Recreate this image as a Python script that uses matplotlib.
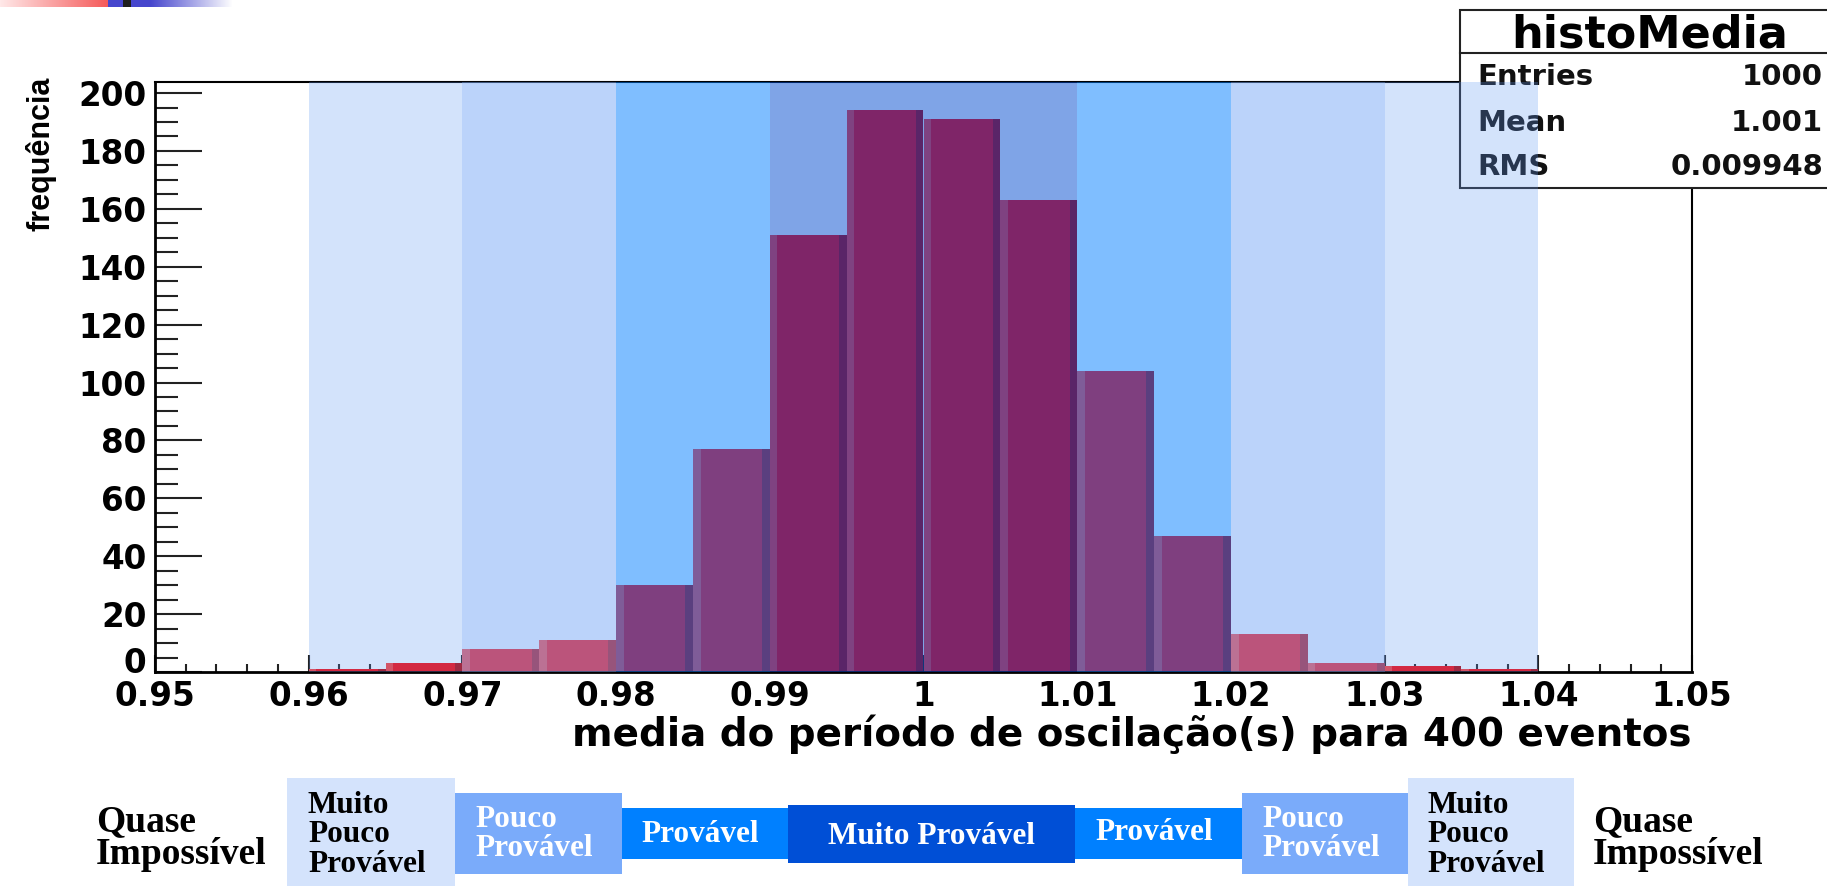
import numpy as np
import matplotlib
matplotlib.use('Agg')
from matplotlib import pyplot as plt
from matplotlib.patches import Rectangle
from matplotlib.transforms import ScaledTranslation

# histogram bins (left edges) and counts
bin_left = [0.960, 0.965, 0.970, 0.975, 0.980, 0.985, 0.990, 0.995,
            1.000, 1.005, 1.010, 1.015, 1.020, 1.025, 1.030, 1.035]
counts = [1, 3, 8, 11, 30, 77, 151, 194, 191, 163, 104, 47, 13, 3, 2, 1]
bin_width = 0.005

x_ticks = [0.95, 0.96, 0.97, 0.98, 0.99, 1.00, 1.01, 1.02, 1.03, 1.04, 1.05]
x_tick_labels = ['0.95', '0.96', '0.97', '0.98', '0.99', '1', '1.01', '1.02', '1.03', '1.04', '1.05']
y_ticks = [0, 20, 40, 60, 80, 100, 120, 140, 160, 180, 200]

# probability bands over the histogram
band_lo = [0.96, 0.97, 0.98, 0.99, 1.01, 1.02, 1.03]
band_hi = [0.97, 0.98, 0.99, 1.01, 1.02, 1.03, 1.04]
band_level = [0, 1, 2, 3, 2, 1, 0]

stats_names = ['Entries', 'Mean', 'RMS']
stats_values = ['1000', '1.001', '0.009948']

# legend boxes under the plot
legend_texts = ['Muito\nPouco\nProvável', 'Pouco\nProvável', 'Provável', 'Muito Provável',
                'Provável', 'Pouco\nProvável', 'Muito\nPouco\nProvável']
legend_level = [0, 1, 2, 3, 2, 1, 0]

band_rgb = [(98, 153, 244), (121, 169, 247), (0, 127, 255), (0, 75, 209)]
band_alpha = [0.275, 0.5, 0.5, 0.5]
box_colors = ['#d4e3fc', '#7aabfa', '#0080ff', '#004fd6']
box_text_colors = ['black', 'white', 'white', 'white']

W, H = 1827, 886
fig = plt.figure(figsize=(W / 100, H / 100), dpi=100)
plt.rcParams['font.weight'] = 'bold'

ax = fig.add_axes([155 / W, 1 - 672 / H, 1537 / W, 590.5 / H])
ax.set_xlim(0.95, 1.05)
ax.set_ylim(0, 204)

# bars with bevelled edges
edge = bin_width * 0.1
ax.bar(bin_left, counts, width=bin_width, align='edge', color='#ff0000', linewidth=0, zorder=2)
ax.bar(bin_left, counts, width=edge, align='edge', color='#ff3a32', linewidth=0, zorder=2.1)
ax.bar([b + bin_width - edge for b in bin_left], counts, width=edge, align='edge',
       color='#b60000', linewidth=0, zorder=2.1)

for lo, hi, lev in zip(band_lo, band_hi, band_level):
    c = tuple(v / 255 for v in band_rgb[lev])
    ax.axvspan(lo, hi, color=c, alpha=band_alpha[lev], linewidth=0, zorder=4)

ax.set_xticks(x_ticks)
ax.set_xticklabels(x_tick_labels, family='DejaVu Sans', fontweight='bold', fontsize=23.5)
ax.set_yticks(y_ticks)
ax.set_yticklabels([str(v) for v in y_ticks], family='DejaVu Sans', fontweight='bold', fontsize=23.5)
ax.set_xticks(np.arange(0.95, 1.0501, 0.002), minor=True)
ax.set_yticks(np.arange(0, 205, 5), minor=True)
ax.tick_params(axis='x', which='major', direction='in', length=12, width=1.5, pad=6, color='#222222')
ax.tick_params(axis='x', which='minor', direction='in', length=6, width=1.5, color='#222222')
ax.tick_params(axis='y', which='major', direction='in', length=34, width=1.5, pad=6, color='#222222')
ax.tick_params(axis='y', which='minor', direction='in', length=16.5, width=1.5, color='#222222')
for s in ['left', 'bottom']:
    ax.spines[s].set_linewidth(2)
for s in ['top', 'right']:
    ax.spines[s].set_linewidth(1.5)

# the "0" label sits a little above its tick, as in ROOT
zero_lab = ax.get_yticklabels()[0]
zero_lab.set_transform(zero_lab.get_transform() + ScaledTranslation(0, 12 / 100, fig.dpi_scale_trans))

ax.set_xlabel('media do período de oscilação(s) para 400 eventos', family='DejaVu Sans',
              fontweight='bold', fontsize=28, loc='right')
ax.xaxis.set_label_coords(1.0, -0.105)
ax.xaxis.label.set_verticalalignment('center')
ax.set_ylabel('frequência', family='Liberation Sans', fontweight='bold', fontsize=22, loc='top')
ax.yaxis.set_label_coords(-0.074, 1.009)
ax.yaxis.label.set_verticalalignment('center')

# stats box (top right)
def ay(ypix):
    return 1 + (81.5 - ypix) / 590.5

bx0 = (1460 - 155) / 1537
ax.add_patch(Rectangle((bx0, ay(188)), 0.3, ay(10) - ay(188), transform=ax.transAxes,
                       facecolor='white', edgecolor='#222222', linewidth=1.5,
                       clip_on=False, zorder=3))
ax.plot([bx0, bx0 + 0.3], [ay(53), ay(53)], transform=ax.transAxes, color='#222222',
        linewidth=1.5, clip_on=False, zorder=3.2)
ax.text((1650 - 155) / 1537, ay(35), 'histoMedia', transform=ax.transAxes, ha='center', va='center',
        family='DejaVu Sans', fontweight='bold', fontsize=32, clip_on=False, zorder=3.5)
for name, val, yp in zip(stats_names, stats_values, [77, 123, 167]):
    ax.text((1477 - 155) / 1537, ay(yp), name, transform=ax.transAxes, ha='left', va='center',
            family='DejaVu Sans', fontweight='bold', fontsize=21, color='#111111',
            clip_on=False, zorder=3.5)
    ax.text((1823 - 155) / 1537, ay(yp), val, transform=ax.transAxes, ha='right', va='center',
            family='DejaVu Sans', fontweight='bold', fontsize=21, color='#111111',
            clip_on=False, zorder=3.5)

# legend boxes at the bottom (pixel positions from the slide)
box_x = [(287, 455), (455, 622), (622, 788), (788, 1075), (1075, 1242), (1242, 1408), (1408, 1574)]
box_y = [(778, 886), (793, 874), (808, 859), (805, 863), (808, 859), (793, 874), (778, 886)]
text_x = [308, 475, 641, 828, 1095, 1262, 1427]
text_y = [835, 834, 834, 837, 833, 834, 835]
for (x0, x1), (y0, y1), lev in zip(box_x, box_y, legend_level):
    fig.patches.append(Rectangle((x0 / W, 1 - y1 / H), (x1 - x0) / W, (y1 - y0) / H,
                                 transform=fig.transFigure, facecolor=box_colors[lev],
                                 edgecolor='none', zorder=1))
for txt, tx, ty, lev in zip(legend_texts, text_x, text_y, legend_level):
    fig.text(tx / W, 1 - ty / H, txt, ha='left', va='center', ma='left',
             family='Liberation Serif', fontweight='bold', fontsize=22.5,
             color=box_text_colors[lev], linespacing=1.02, zorder=2)
for tx in [96, 1593]:
    fig.text(tx / W, 1 - 838 / H, 'Quase\nImpossível', ha='left', va='center', ma='left',
             family='Liberation Serif', fontweight='bold', fontsize=27, color='black',
             linespacing=0.95, zorder=2)

# slide decoration strip top-left
strip = fig.add_axes([0, 1 - 7 / H, 233 / W, 7 / H])
px = np.arange(233)
stops = [0, 107, 108, 122, 123, 130, 131, 150, 232]
r = np.interp(px, stops, [255, 245, 70, 70, 30, 30, 70, 70, 255])
g = np.interp(px, stops, [232, 90, 70, 70, 30, 30, 70, 70, 255])
b = np.interp(px, stops, [232, 90, 205, 205, 30, 30, 205, 205, 255])
strip.imshow(np.dstack([r, g, b]) / 255, aspect='auto')
strip.axis('off')

fig.savefig('out.png', dpi=100)
